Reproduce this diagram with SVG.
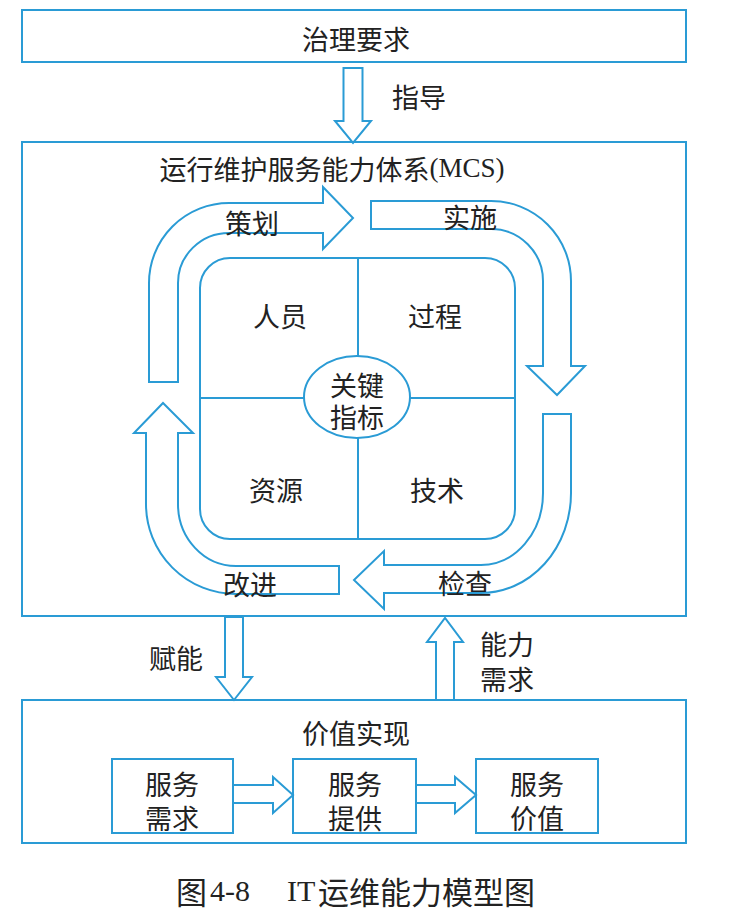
<svg xmlns="http://www.w3.org/2000/svg" width="742" height="912" viewBox="0 0 742 912">
<style>
.b{fill:#fff;stroke:#2a9bd5;stroke-width:2}
.n{fill:none;stroke:#2a9bd5;stroke-width:2}
.t{font-family:"Noto Sans CJK SC","Noto Sans",sans-serif;font-size:27px;fill:#222;text-anchor:middle;dominant-baseline:central}
.s{font-family:"Liberation Serif","Noto Sans CJK SC",serif}
.c{font-family:"Noto Sans CJK SC","Liberation Serif",serif;font-size:31px;fill:#222;dominant-baseline:central}
.l{font-family:"Liberation Serif",serif;font-size:30px}
</style>
<rect width="742" height="912" fill="#fff"/>
<g id="governance">
<rect class="b" x="22" y="10" width="664" height="52"/>
<text class="t" x="356" y="38">治理要求</text>
</g>
<g id="mcs">
<rect class="b" x="22" y="142" width="664" height="474"/>
<text class="t" x="332" y="168">运行维护服务能力体系<tspan class="s">(MCS)</tspan></text>
</g>
<g id="core">
<rect class="b" x="200" y="258" width="315" height="281" rx="30"/>
<line class="n" x1="358" y1="258" x2="358" y2="539"/>
<line class="n" x1="200" y1="398" x2="515" y2="398"/>
<text class="t" x="280" y="315">人员</text>
<text class="t" x="435" y="315">过程</text>
<text class="t" x="276" y="489">资源</text>
<text class="t" x="437" y="489">技术</text>
</g>
<g id="kpi">
<ellipse class="b" cx="357" cy="397" rx="53" ry="41"/>
<text class="t" x="357" y="384">关键<tspan x="357" dy="32">指标</tspan></text>
</g>
<g id="plan">
<path class="b" d="M149 382 V283 A80 80 0 0 1 229 203 H323 V187 L353 218 L323 249 V233 H229 A51 50 0 0 0 178 283 V382 Z"/>
<text class="t" x="252" y="222">策划</text>
</g>
<g id="do">
<path class="b" d="M371 201 H491 A80 80 0 0 1 571 281 V366 H585 L557 395 L527 366 H543 V281 A52 52 0 0 0 491 229 H371 Z"/>
<text class="t" x="470" y="216">实施</text>
</g>
<g id="check">
<path class="b" d="M543 414 H571 V493 A90 100 0 0 1 481 593 H384 V609 L354 580 L384 551 V565 H481 A62 72 0 0 0 543 493 Z"/>
<text class="t" x="465" y="582">检查</text>
</g>
<g id="act">
<path class="b" d="M339 566 V594 H236 A90 90 0 0 1 146 504 V433 H134 L163 403 L193 433 H178 V504 A58 62 0 0 0 236 566 Z"/>
<text class="t" x="250" y="583">改进</text>
</g>
<g id="value">
<rect class="b" x="22" y="700" width="664" height="143"/>
<text class="t" x="356" y="732">价值实现</text>
</g>
<g id="svc-demand">
<rect class="b" x="112" y="759" width="121" height="74"/>
<text class="t" x="172" y="783">服务<tspan x="172" dy="34">需求</tspan></text>
</g>
<g id="svc-provide">
<rect class="b" x="293" y="759" width="123" height="74"/>
<text class="t" x="355" y="783">服务<tspan x="355" dy="34">提供</tspan></text>
</g>
<g id="svc-value">
<rect class="b" x="476" y="759" width="122" height="74"/>
<text class="t" x="537" y="783">服务<tspan x="537" dy="34">价值</tspan></text>
</g>
<g id="connectors">
<path class="b" d="M343.5 68 H362.5 V121 H371 L353 143 L335 121 H343.5 Z"/>
<text class="t" x="419" y="96">指导</text>
<path class="b" d="M225 617 H243 V677 H252 L234 700 L216 677 H225 Z"/>
<text class="t" x="176" y="657">赋能</text>
<path class="b" d="M436 700 V642 H427 L445 618 L463 642 H454 V700 Z"/>
<text class="t" x="507" y="643">能力<tspan x="507" dy="35">需求</tspan></text>
<path class="b" d="M233 785 H273 V777 L293 795 L273 813 V803 H233 Z"/>
<path class="b" d="M416 785 H455 V777 L476 795 L455 813 V803 H416 Z"/>
</g>
<g id="caption">
<text class="c" y="890"><tspan x="176">图</tspan><tspan class="l" x="210">4-8</tspan><tspan class="l" x="287">IT</tspan><tspan x="318">运维能力模型图</tspan></text>
</g>
</svg>
